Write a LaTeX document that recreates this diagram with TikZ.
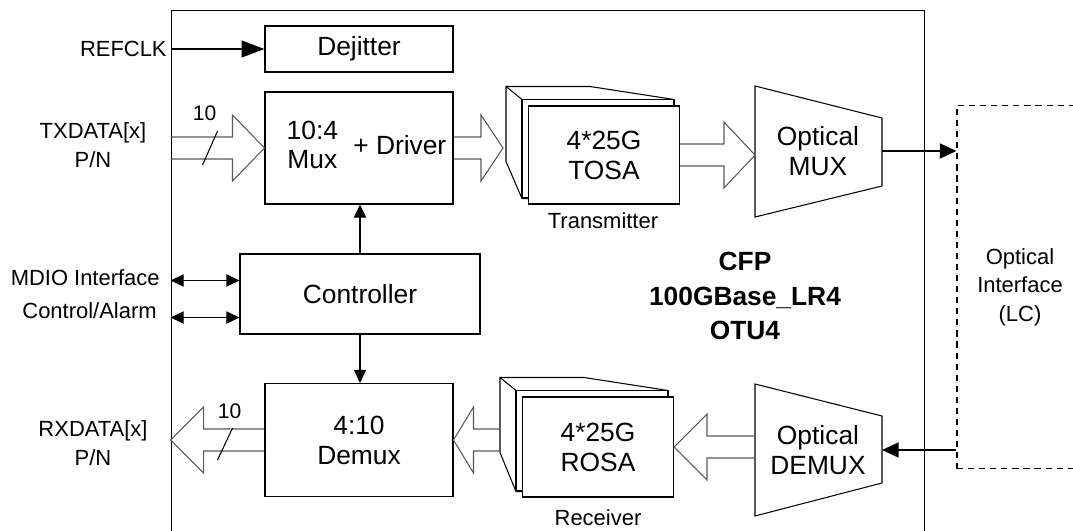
\documentclass[tikz,border=0pt]{standalone}
\usepackage{fontspec}
\setmainfont{Liberation Sans}
\usetikzlibrary{calc,positioning,arrows.meta,backgrounds}

% hollow bus arrow: start, tip, head length (negative when pointing left)
\newcommand{\fatarrow}[3]{%
  \draw[fat] ($(#1)+(0,-11)$) -- ($(#2)+({-1*(#3)},-11)$) -- ($(#2)+({-1*(#3)},-33)$) -- (#2)
    -- ($(#2)+({-1*(#3)},33)$) -- ($(#2)+({-1*(#3)},11)$) -- ($(#1)+(0,11)$);}

% stacked cards behind a TOSA/ROSA block
\newcommand{\cardstack}[1]{%
  \begin{scope}[on background layer]
    \draw[blk,fill=white] ($(#1.north west)+(-22,-19)$) -- ($(#1.north west)+(62,-19)$)
      -- ($(#1.north east)+(-6,-6)$) -- ($(#1.south east)+(-6,-6)$)
      -- ($(#1.south west)+(-6,-6)$) -- ($(#1.north west)+(-22,56)$) -- cycle;
    \draw[blk,fill=white] ($(#1.north west)+(-6,-6)$) rectangle ($(#1.south east)+(-6,-7)$);
    \draw[blk] ($(#1.north west)+(-22,-19)$) -- ($(#1.north west)+(-6,-6)$);
  \end{scope}}

\begin{document}
\begin{tikzpicture}[x=0.02cm,y=-0.02cm,
  blk/.style={line width=0.6pt},
  box/.style={draw,line width=0.6pt,fill=white,inner sep=0pt,align=center,font=\fontsize{15}{17}\selectfont},
  side/.style={inner sep=0pt,align=center,font=\fontsize{12.5}{16.5}\selectfont},
  fat/.style={draw=black!65,line width=0.6pt},
  sig/.style={line width=0.6pt,-{Triangle[length=7.5pt,width=7pt]}},
  bidir/.style={line width=0.6pt,{Triangle[length=7.5pt,width=7pt]}-{Triangle[length=7.5pt,width=7pt]}},
  optic/.style={line width=1.2pt,-{Triangle[length=9.5pt,width=8.5pt]}}]

\useasboundingbox (0,0) rectangle (1073,531);

% Module outline
\node[draw,line width=0.6pt,minimum width=15.08cm,minimum height=11cm] (cfp) at (548,285) {};
\node[font=\fontsize{15}{19.5}\selectfont\bfseries,align=center] (cfptxt) at (745,296) {CFP\\100GBase\_LR4\\OTU4};

% Blocks
\node[box,minimum width=3.76cm,minimum height=0.92cm] (dejit) at (359,49) {Dejitter};
\node[box,minimum width=3.76cm,minimum height=2.24cm] (mux) at (359,148)
  {\hspace{0.3cm}\begin{tabular}{@{}c@{}}10:4\\Mux\end{tabular}\hspace{0.16cm} + Driver};
\node[box,minimum width=4.8cm,minimum height=1.6cm] (ctrl) at (360,294) {Controller};
\node[box,minimum width=3.76cm,minimum height=2.26cm] (demux) at (359,440) {4:10\\Demux};
\node[box,minimum width=3.02cm,minimum height=1.96cm] (tosa) at (604,155) {4*25G\\TOSA};
\node[box,minimum width=3.02cm,minimum height=2cm] (rosa) at (598,447) {4*25G\\ROSA};
\cardstack{tosa}
\cardstack{rosa}
\node[side] (txlbl) at (603,221) {Transmitter};
\node[side] (rxlbl) at (598,518) {Receiver};

% Optical mux / demux
\node[box,draw=none,fill=none] (omux) at (818,151) {Optical\\MUX};
\draw[blk] ($(omux)+(-63,-65)$) -- ($(omux)+(64,-33)$) -- ($(omux)+(64,35)$) -- ($(omux)+(-63,66)$) -- cycle;
\coordinate (omuxw) at ($(omux)+(-63,0)$);
\coordinate (omuxe) at ($(omux)+(64,0)$);
\node[box,draw=none,fill=none] (odemux) at (818,450) {Optical\\DEMUX};
\draw[blk] ($(odemux)+(-63,-66)$) -- ($(odemux)+(64,-34)$) -- ($(odemux)+(64,33)$) -- ($(odemux)+(-63,66)$) -- cycle;
\coordinate (odemuxw) at ($(odemux)+(-63,0)$);
\coordinate (odemuxe) at ($(odemux)+(64,0)$);

% Optical interface
\node[draw,line width=0.6pt,dash pattern=on 3.5pt off 2.8pt,minimum width=2.52cm,minimum height=7.28cm,
  inner sep=0pt,align=center,font=\fontsize{12.5}{16.2}\selectfont] (lc) at (1020,287) {Optical\\Interface\\(LC)};
\draw[optic] (omuxe) -- (omuxe -| lc.west);
\draw[optic] (odemuxe -| lc.west) -- (odemuxe);

% Clock and control
\node[side,anchor=east] (refclk) at (167,49) {REFCLK};
\draw[line width=1.2pt,-{Triangle[length=13pt,width=9.5pt]}] (dejit.west -| cfp.west) -- (dejit.west);
\coordinate (mdio) at ($(ctrl.north west)+(0,27)$);
\coordinate (alarm) at ($(ctrl.south west)+(0,-17)$);
\draw[bidir] (mdio -| cfp.west) -- (mdio);
\draw[bidir] (alarm -| cfp.west) -- (alarm);
\node[side,anchor=east] (mdiotxt) at (160,278) {MDIO Interface};
\node[side,anchor=east] (alarmtxt) at (157,311) {Control/Alarm};
\draw[sig] (ctrl.north) -- (ctrl.north |- mux.south);
\draw[sig] (ctrl.south) -- (ctrl.south |- demux.north);

% Data paths
\node[side] (txdata) at (93,145) {TXDATA[x]\\P/N};
\node[side] (rxdata) at (93,443) {RXDATA[x]\\P/N};
\coordinate (txin) at (mux.west -| cfp.west);
\coordinate (tosain) at ($(mux.east -| tosa.west)+(-25,0)$);
\coordinate (muxin) at (tosa.east -| omuxw);
\coordinate (demuxout) at (rosa.east -| odemuxw);
\coordinate (rosaout) at ($(demux.east -| rosa.west)+(-22,0)$);
\coordinate (rxout) at (demux.west -| cfp.west);
\fatarrow{txin}{mux.west}{32}
\fatarrow{mux.east}{tosain}{22}
\fatarrow{tosa.east}{muxin}{31}
\fatarrow{demuxout}{rosa.east}{-33}
\fatarrow{rosaout}{demux.east}{-20}
\fatarrow{demux.west}{rxout}{-33}
\draw[blk] ($(txin)+(32,17)$) -- ($(txin)+(47,-17)$);
\node[side,font=\fontsize{12}{14}\selectfont] (txbus) at ($(txin)+(34,-35)$) {10};
\draw[blk] ($(rxout)+(62,-12)$) -- ($(rxout)+(47,20)$);
\node[side,font=\fontsize{12}{14}\selectfont] (rxbus) at ($(rxout)+(59,-29)$) {10};

\end{tikzpicture}
\end{document}
